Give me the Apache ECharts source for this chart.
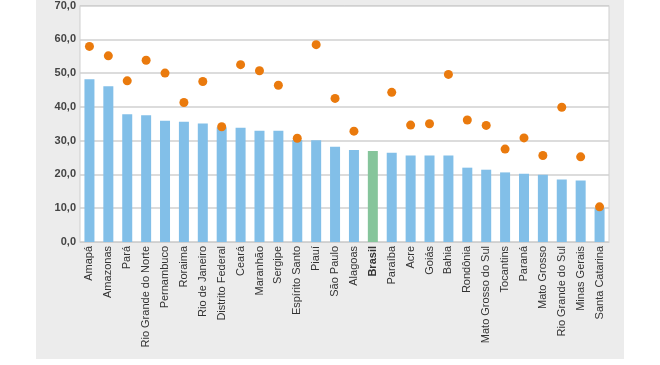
<!DOCTYPE html>
<html>
<head>
<meta charset="utf-8">
<script src="https://cdn.jsdelivr.net/npm/echarts@6/dist/echarts.min.js"></script>
<style>html,body{margin:0;padding:0;background:#fff}#c{width:660px;height:365px}</style>
</head>
<body>
<div id="c"></div>
<script>
const categories = ["Amapá","Amazonas","Pará","Rio Grande do Norte","Pernambuco","Roraima","Rio de Janeiro","Distrito Federal","Ceará","Maranhão","Sergipe","Espírito Santo","Piauí","São Paulo","Alagoas","Brasil","Paraíba","Acre","Goiás","Bahia","Rondônia","Mato Grosso do Sul","Tocantins","Paraná","Mato Grosso","Rio Grande do Sul","Minas Gerais","Santa Catarina"];
const barValues = [48.2,46.1,37.8,37.5,35.9,35.6,35.1,34.0,33.8,32.9,32.9,30.2,30.1,28.2,27.2,26.9,26.4,25.6,25.6,25.6,22.0,21.4,20.6,20.2,19.9,18.5,18.2,10.0];
const dotValues = [57.9,55.1,47.7,53.8,50.0,41.3,47.5,34.1,52.5,50.7,46.4,30.7,58.4,42.5,32.8,null,44.3,34.6,35.0,49.6,36.1,34.5,27.5,30.8,25.6,39.9,25.2,10.4];
const highlight = "Brasil";

const chart = echarts.init(document.getElementById('c'), null, {renderer:'canvas'});
chart.setOption({
  animation:false,
  backgroundColor:'#ffffff',
  graphic:[{type:'rect',z:-10,shape:{x:36,y:0,width:588,height:359},style:{fill:'#ececec'}}],
  grid:{left:80,right:51,top:5,bottom:123,show:true,backgroundColor:'#ffffff',borderColor:'#cfcfcf',borderWidth:1},
  xAxis:{type:'category',data:categories,
    axisLine:{show:true,lineStyle:{color:'#cfcfcf'}},axisTick:{show:false},
    axisLabel:{rotate:90,interval:0,fontFamily:'Liberation Sans, Arial',fontSize:11,color:'#333',margin:4,
      formatter:v=>v===highlight?'{b|'+v+'}':v,rich:{b:{fontWeight:'bold',fontSize:11,color:'#333',fontFamily:'Liberation Sans, Arial'}}}},
  yAxis:{type:'value',min:0,max:70,interval:10,
    axisLine:{show:false},axisTick:{show:false},
    splitLine:{lineStyle:{color:'#d0d0d0',width:1.5}},
    axisLabel:{formatter:v=>v.toFixed(1).replace('.',','),fontFamily:'Liberation Sans, Arial',fontSize:11,fontWeight:'bold',color:'#444',margin:4}},
  series:[
    {type:'bar',data:barValues.map((v,i)=>({value:v,itemStyle:{color:categories[i]===highlight?'#86c59b':'#82bfe8'}})),barWidth:10},
    {type:'scatter',data:dotValues,symbolSize:9,itemStyle:{color:'#ea7a0d',opacity:1},z:5}
  ]
});
</script>
</body>
</html>
